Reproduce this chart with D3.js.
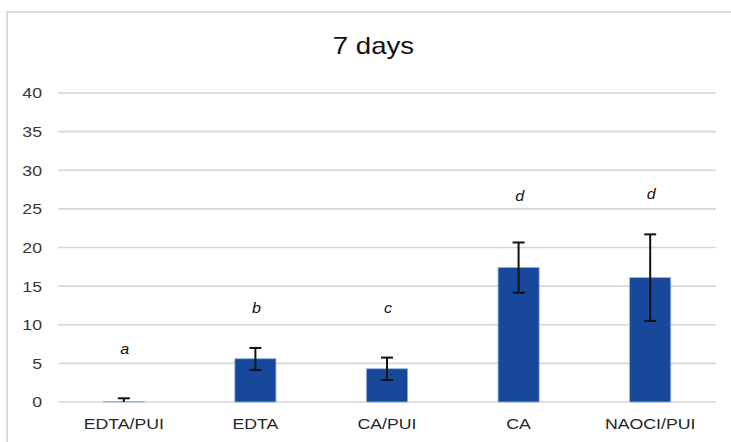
<!DOCTYPE html>
<html>
<head>
<meta charset="utf-8">
<script src="https://cdn.jsdelivr.net/npm/d3@7"></script>
<style>
  html, body { margin: 0; padding: 0; background: #fff; }
  svg { display: block; }
  text { font-family: "Liberation Sans", Arial, sans-serif; }
</style>
</head>
<body>
<svg id="chart" width="731" height="442"></svg>
<script>
const title = "7 days";
const categories = ["EDTA/PUI", "EDTA", "CA/PUI", "CA", "NAOCI/PUI"];
const means = [0.03, 5.6, 4.3, 17.4, 16.1];
const errLow = [-0.4, 4.15, 2.85, 14.15, 10.5];
const errHigh = [0.48, 7.0, 5.75, 20.65, 21.7];
const letters = ["a", "b", "c", "d", "d"];
const letterY = [6.2, 11.5, 11.5, 26.0, 26.3];
const yTicks = [0, 5, 10, 15, 20, 25, 30, 35, 40];

const svg = d3.select("#chart");
const W = 731, H = 442;
const plot = { left: 58, right: 716, top: 93, bottom: 402 };
const SX = 1.15;

// outer border
svg.append("rect")
  .attr("x", 7).attr("y", 12)
  .attr("width", W + 10).attr("height", H + 10)
  .attr("fill", "#fff").attr("stroke", "#cfcfcf").attr("stroke-width", 1.5);

const x = d3.scaleBand().domain(categories)
  .range([plot.left, plot.right]).paddingInner(0.688).paddingOuter(0.344);
const y = d3.scaleLinear().domain([0, 40]).range([plot.bottom, plot.top]);

// gridlines
svg.append("g").selectAll("line").data(yTicks).join("line")
  .attr("x1", plot.left).attr("x2", plot.right)
  .attr("y1", d => y(d)).attr("y2", d => y(d))
  .attr("stroke", "#d6d6d6").attr("stroke-width", 1.6);

// y tick labels
svg.append("g").selectAll("text").data(yTicks).join("text")
  .attr("transform", d => `translate(42,${y(d) + 5.4}) scale(${SX},1)`)
  .attr("text-anchor", "end")
  .attr("font-size", 15.4).attr("fill", "#383838")
  .text(d => d);

// title
svg.append("text")
  .attr("transform", `translate(373.5,54.3) scale(1.2,1)`)
  .attr("text-anchor", "middle")
  .attr("font-size", 23).attr("fill", "#111")
  .text(title);

const data = categories.map((c, i) => ({
  c, v: means[i], lo: errLow[i], hi: errHigh[i], l: letters[i], ly: letterY[i]
}));

// bars
svg.append("g").selectAll("rect").data(data).join("rect")
  .attr("x", d => x(d.c)).attr("width", x.bandwidth())
  .attr("y", d => y(d.v)).attr("height", d => y(0) - y(d.v))
  .attr("fill", "#17489b").attr("stroke", "#8aaee0").attr("stroke-width", 0.8);

// clip for error bars
svg.append("clipPath").attr("id", "pc").append("rect")
  .attr("x", plot.left).attr("y", plot.top - 20)
  .attr("width", plot.right - plot.left).attr("height", plot.bottom - plot.top + 20);

const eg = svg.append("g").attr("clip-path", "url(#pc)");
const cap = 6;
const cx = d => x(d.c) + x.bandwidth() / 2;
eg.selectAll("line.v").data(data).join("line").attr("class", "v")
  .attr("x1", cx).attr("x2", cx)
  .attr("y1", d => y(d.lo)).attr("y2", d => y(d.hi))
  .attr("stroke", "#111").attr("stroke-width", 2);
eg.selectAll("line.t").data(data).join("line").attr("class", "t")
  .attr("x1", d => cx(d) - cap).attr("x2", d => cx(d) + cap)
  .attr("y1", d => y(d.hi)).attr("y2", d => y(d.hi))
  .attr("stroke", "#111").attr("stroke-width", 2);
eg.selectAll("line.b").data(data).join("line").attr("class", "b")
  .attr("x1", d => cx(d) - cap).attr("x2", d => cx(d) + cap)
  .attr("y1", d => y(d.lo)).attr("y2", d => y(d.lo))
  .attr("stroke", "#111").attr("stroke-width", 2);

// significance letters
svg.append("g").selectAll("text").data(data).join("text")
  .attr("transform", d => `translate(${cx(d) + 1},${y(d.ly)}) scale(${SX},1)`)
  .attr("text-anchor", "middle")
  .attr("font-size", 14).attr("font-style", "italic").attr("fill", "#111")
  .text(d => d.l);

// x labels
svg.append("g").selectAll("text").data(categories).join("text")
  .attr("transform", d => `translate(${x(d) + x.bandwidth() / 2},429.3) scale(${SX},1)`)
  .attr("text-anchor", "middle")
  .attr("font-size", 15.4).attr("fill", "#262626")
  .text(d => d);
</script>
</body>
</html>
